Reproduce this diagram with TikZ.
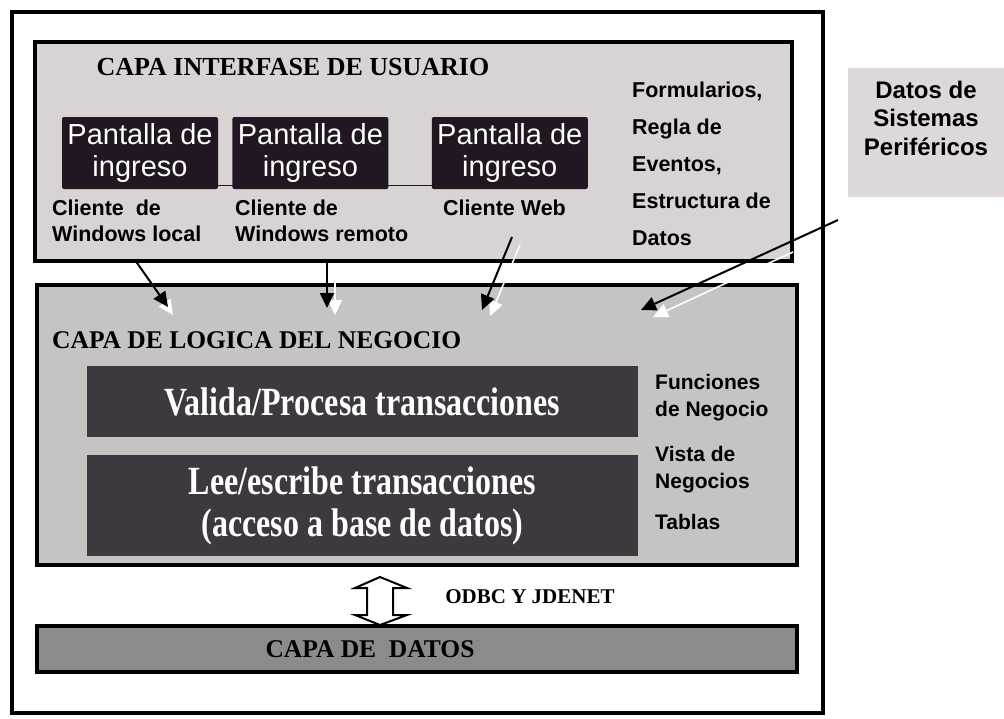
\documentclass[tikz,border=0pt]{standalone}
\usepackage{fontspec}
\setmainfont{Liberation Serif}
\setsansfont{Liberation Sans}
\newfontfamily\condserif[FakeStretch=0.8]{Liberation Serif}
\usetikzlibrary{positioning}
\usetikzlibrary{arrows.meta}

\definecolor{capaui}{RGB}{216,212,212}
\definecolor{capalogica}{RGB}{198,195,195}
\definecolor{capadatos}{RGB}{140,138,140}
\definecolor{pantalla}{RGB}{34,22,34}
\definecolor{proceso}{RGB}{62,57,62}
\definecolor{periferico}{RGB}{222,216,216}

\begin{document}
\begin{tikzpicture}[x=1pt, y=-1pt,
        node distance=14pt and 14pt,
        layer/.style={rectangle, draw=black, line width=4.5pt, inner sep=0pt},
        screen/.style={rectangle, fill=pantalla, text=white, rounded corners=2pt, minimum width=156pt, minimum height=72pt, align=center, inner sep=0pt, font=\sffamily\fontsize{29}{32}\selectfont},
        tx/.style={font=\sffamily\bfseries\fontsize{21.5}{26}\selectfont, align=left, inner sep=0pt, anchor=north west},
        side/.style={tx, font=\sffamily\bfseries\fontsize{21}{27}\selectfont},
        title/.style={font=\bfseries\fontsize{25.5}{30}\selectfont, inner sep=0pt},
        proc/.style={rectangle, fill=proceso, text=white, minimum width=551pt, align=center, inner sep=0pt, font=\condserif\bfseries\fontsize{40}{42}\selectfont},
        flow/.style={line width=2pt, -{Triangle[length=15pt,width=14pt]}},
        shade/.style={flow, white, line width=1.6pt}
    ]
        \useasboundingbox (0,0) rectangle (1004,718);

        % capas
        \node[layer, line width=3.5pt, fill=white, minimum width=811pt, minimum height=701pt] (marco) at (417.5,362.5) {};
        \node[layer, fill=capaui, minimum width=757pt, minimum height=219pt] (interfase) at (413.5,151.5) {};
        \node[layer, fill=capalogica, minimum width=760pt, minimum height=280pt] (logica) at (417,425) {};
        \node[layer, fill=capadatos, minimum width=760pt, minimum height=46pt] (datos) at (417,649) {};

        % interfase de usuario
        \node[title, font=\bfseries\fontsize{26}{30}\selectfont] (tituloui) at (293,67) {CAPA INTERFASE DE USUARIO};
        \node[screen] (pant1) at (140,153) {Pantalla de\\ingreso};
        \node[screen, right=14pt of pant1] (pant2) {Pantalla de\\ingreso};
        \node[screen, right=43pt of pant2] (pant3) {Pantalla de\\ingreso};
        \draw[pantalla, line width=1pt] ([yshift=4pt]pant1.south east) -- ([yshift=4pt]pant3.south west);

        \node[tx] (cli1) at (52,200) {Cliente~ de\\Windows local};
        \node[tx] (cli2) at (235,200) {Cliente de\\Windows remoto};
        \node[tx] (cli3) at (443,200) {Cliente Web};
        \node[tx, font=\sffamily\bfseries\fontsize{21.5}{37}\selectfont] (formularios) at (632,82) {Formularios,\\Regla de\\Eventos,\\Estructura de\\Datos};

        \node[fill=periferico, minimum width=156pt, minimum height=129pt] (perif) at (926,132.5) {};
        \node[tx, align=center, anchor=north, font=\sffamily\bfseries\fontsize{24}{28.5}\selectfont] (periftxt) at ([yshift=-13pt]perif.north) {Datos de\\Sistemas\\Periféricos};

        % logica del negocio
        \node[title, anchor=west] (titulolog) at (52,340) {CAPA DE LOGICA DEL NEGOCIO};
        \node[proc, minimum height=71pt] (valida) at (362.5,401.5) {Valida/Procesa transacciones};
        \node[proc, minimum height=101pt, below=18pt of valida] (lee) {Lee/escribe transacciones\\(acceso a base de datos)};
        \node[side] (funciones) at (655,374) {Funciones\\de Negocio};
        \node[side] (vista) at (655,446) {Vista de\\Negocios};
        \node[side] (tablas) at (655,514) {Tablas};

        % datos
        \draw[line width=2pt, fill=white] (380,577) -- (407,588) -- (393,588) -- (393,615) -- (407,615) -- (380,625) -- (355,615) -- (367,615) -- (367,588) -- (355,588) -- cycle;
        \node[title, font=\bfseries\fontsize{21}{24}\selectfont] (odbc) at (530,597) {ODBC Y JDENET};
        \node[title] (titulodatos) at (370,649) {CAPA DE~ DATOS};

        % flechas
        \coordinate (ui1) at (135,260);
        \coordinate (lg1) at (168,307);
        \coordinate (ui2) at (327,260);
        \coordinate (lg2) at (327,308);
        \coordinate (ui3) at (512,237);
        \coordinate (lg3) at (482,310);
        \coordinate (ext) at (838,220);
        \coordinate (lg4) at (641,310);

        \draw[shade] ([shift={(7,9)}]ui1) -- ([shift={(5,8)}]lg1);
        \draw[shade] ([shift={(8,14)}]ui2) -- ([shift={(8,7)}]lg2);
        \draw[shade] ([shift={(8,8)}]ui3) -- ([shift={(8,6)}]lg3);
        \draw[shade] (793,252) -- ([shift={(12,7)}]lg4);

        \draw[flow] (ui1) -- (lg1);
        \draw[flow] (ui2) -- (lg2);
        \draw[flow] (ui3) -- (lg3);
        \draw[flow] (ext) -- (lg4);
    \end{tikzpicture}
\end{document}
